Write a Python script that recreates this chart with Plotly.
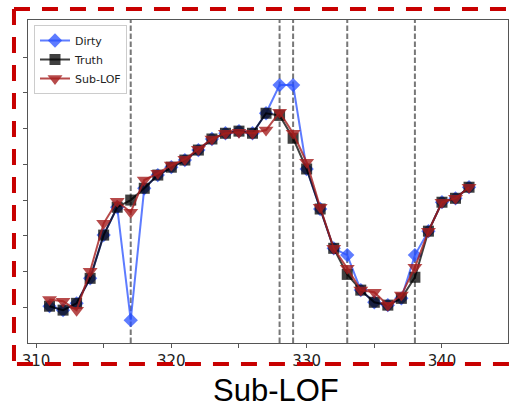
import plotly.graph_objects as go

# ---- data ----
x_vals = list(range(311, 343))
truth = [1.03, 0.92, 1.11, 1.81, 3.02, 3.80, 4.00, 4.33, 4.70, 4.92, 5.12, 5.40,
         5.71, 5.87, 5.93, 5.87, 6.43, 6.37, 5.73, 4.87, 3.75, 2.65, 1.92, 1.48,
         1.14, 1.06, 1.25, 1.84, 3.13, 3.94, 4.05, 4.36]
dirty = [1.03, 0.92, 1.11, 1.81, 3.02, 3.80, 0.64, 4.33, 4.70, 4.92, 5.12, 5.40,
         5.71, 5.87, 5.93, 5.87, 6.43, 7.22, 7.22, 4.87, 3.75, 2.65, 2.46, 1.48,
         1.14, 1.06, 1.25, 2.46, 3.13, 3.94, 4.05, 4.36]
sublof = [1.22, 1.17, 0.92, 2.01, 3.35, 3.97, 3.66, 4.56, 4.75, 4.98, 5.14, 5.42,
          5.71, 5.87, 5.90, 5.87, 5.96, 6.46, 5.87, 5.06, 3.80, 2.65, 2.09, 1.48,
          1.42, 1.06, 1.34, 2.12, 3.13, 3.94, 4.05, 4.36]
anomaly_x = [317, 328, 329, 333, 338]
x_ticks = [310, 315, 320, 325, 330, 335, 340, 345]
x_ticktext = ["310", "", "320", "", "330", "", "340", ""]
y_ticks = [1, 2, 3, 4, 5, 6, 7, 8]
title_text = "Sub-LOF"

fig = go.Figure()

fig.add_trace(go.Scatter(
    x=x_vals, y=dirty, name="Dirty", mode="lines+markers",
    line=dict(color="rgba(40,80,255,0.75)", width=2),
    marker=dict(symbol="diamond", size=11, color="rgba(40,80,255,0.75)",
                line=dict(width=0))))
fig.add_trace(go.Scatter(
    x=x_vals, y=truth, name="Truth", mode="lines+markers",
    line=dict(color="rgba(0,0,0,0.75)", width=2),
    marker=dict(symbol="square", size=11, color="rgba(0,0,0,0.75)",
                line=dict(width=0))))
fig.add_trace(go.Scatter(
    x=x_vals, y=sublof, name="Sub-LOF", mode="lines+markers",
    line=dict(color="rgba(165,30,30,0.8)", width=2),
    marker=dict(symbol="triangle-down", size=13, color="rgba(165,30,30,0.8)",
                line=dict(width=0))))

for xv in anomaly_x:
    fig.add_vline(x=xv, line=dict(color="#777777", width=2, dash="5.5px,2.5px"),
                  layer="below")

# red dashed frame
border = dict(color="#c80000", width=4, dash="16px,12px")
for (x0, y0, x1, y1) in [(-0.0292, 1.034, 1.03, 1.034),
                         (-0.0292, 1.034, -0.0292, -0.065),
                         (-0.023, -0.065, 1.03, -0.065)]:
    fig.add_shape(type="line", xref="paper", yref="paper",
                  x0=x0, y0=y0, x1=x1, y1=y1, line=border)

fig.add_annotation(text=title_text, xref="paper", yref="paper",
                   x=0.5167, y=-0.147, xanchor="center", yanchor="middle",
                   showarrow=False,
                   font=dict(family="Liberation Sans, Arial", size=31, color="black"))

fig.update_layout(
    width=509, height=407,
    margin=dict(l=28, r=1, t=20, b=64),
    paper_bgcolor="white", plot_bgcolor="white",
    showlegend=True,
    legend=dict(x=0.0125, y=0.9845, xanchor="left", yanchor="top",
                bgcolor="white", bordercolor="#cccccc", borderwidth=1,
                font=dict(family="DejaVu Sans", size=11, color="#222"),
                itemwidth=30, tracegroupgap=0),
    font=dict(family="DejaVu Sans"),
)
fig.update_xaxes(range=[309.409, 344.88], tickvals=x_ticks, ticktext=x_ticktext,
                 ticks="outside", ticklen=4, tickcolor="#555",
                 showline=True, linecolor="#555", linewidth=1, mirror=True,
                 showgrid=False, zeroline=False,
                 tickfont=dict(family="DejaVu Sans", size=15, color="#222"))
fig.update_yaxes(range=[0, 9.04], tickvals=y_ticks, ticktext=[""] * len(y_ticks),
                 ticks="outside", ticklen=4, tickcolor="#555",
                 showline=True, linecolor="#555", linewidth=1, mirror=True,
                 showgrid=False, zeroline=False)

fig.write_html("out.html")
